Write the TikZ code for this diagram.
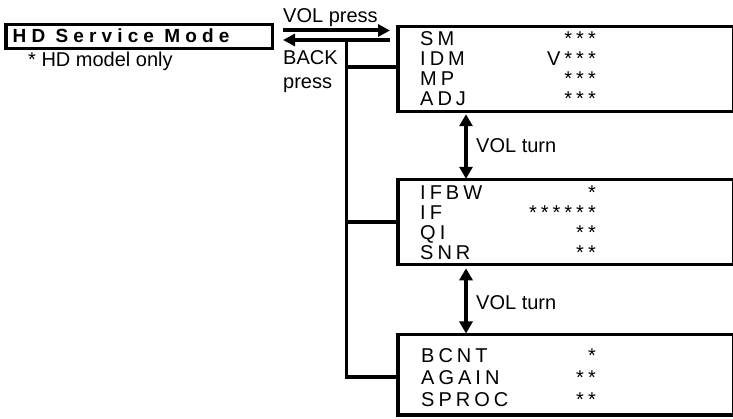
\documentclass[tikz,border=0pt]{standalone}
\usepackage{fontspec}
\setmainfont{Liberation Sans}
\newfontfamily\trkfont[LetterSpace=20]{Liberation Sans}
\newfontfamily\trkbold[LetterSpace=27]{Liberation Sans Bold}
\usetikzlibrary{arrows.meta}
\tikzset{
  box/.style={draw=black, line width=3.5pt, rectangle, inner sep=0pt, outer sep=0pt, anchor=north west},
  lbl/.style={inner sep=0pt, anchor=base west, font=\fontsize{20}{24}\selectfont},
  lt/.style={inner sep=0pt, anchor=base west, font=\fontsize{20}{24}\selectfont\trkfont},
  rt/.style={inner sep=0pt, anchor=base east, font=\fontsize{20}{24}\selectfont\trkfont},
  conn/.style={line width=3.5pt, draw=black},
  arr/.style={line width=4pt, draw=black, -{Triangle[length=12pt,width=12pt]}},
  darr/.style={line width=4pt, draw=black, {Triangle[length=12pt,width=13pt]}-{Triangle[length=12pt,width=13pt]}}
}
\begin{document}
\begin{tikzpicture}[x=1pt,y=-1pt]
\useasboundingbox (0,0) rectangle (733,419);
\clip (0,0) rectangle (733,419);
% main mode box
\node[box, minimum width=266.5pt, minimum height=24pt] (hd) at (6,24.7) {};
\node[lt, font=\fontsize{19}{22}\selectfont\trkbold] (hdt) at (12.5,43) {HD Service Mode};
\node[lbl] (note) at (28,67) {* HD model only};
% menu boxes
\node[box, minimum width=336pt, minimum height=85pt] (m1) at (398,26.5) {};
\node[box, minimum width=336pt, minimum height=85pt] (m2) at (398,179.3) {};
\node[box, minimum width=336pt, minimum height=80.5pt] (m3) at (398,334.5) {};
% box 1 text
\node[lt] (t11) at (420,46) {SM};
\node[lt] (t12) at (420,66) {IDM};
\node[lt] (t13) at (420,86) {MP};
\node[lt] (t14) at (420,105.5) {ADJ};
\node[rt] (v11) at (596,46) {***};
\node[rt] (v12) at (596,66) {V***};
\node[rt] (v13) at (596,86) {***};
\node[rt] (v14) at (596,105.5) {***};
% box 2 text
\node[lt] (t21) at (420,200) {IFBW};
\node[lt] (t22) at (420,220) {IF};
\node[lt] (t23) at (420,240) {QI};
\node[lt] (t24) at (420,260) {SNR};
\node[rt] (v21) at (596,200) {*};
\node[rt] (v22) at (596,220) {******};
\node[rt] (v23) at (596,240) {**};
\node[rt] (v24) at (596,260) {**};
% box 3 text
\node[lt] (t31) at (421,362) {BCNT};
\node[lt] (t32) at (421,384) {AGAIN};
\node[lt] (t33) at (421,406) {SPROC};
\node[rt] (v31) at (596,362) {*};
\node[rt] (v32) at (596,384) {**};
\node[rt] (v33) at (596,406) {**};
% arrows between mode box and menu
\coordinate (va) at ([shift={(10.5pt,6.2pt)}]hd.east);
\coordinate (vb) at ([shift={(10.5pt,-3.3pt)}]hd.east);
\draw[arr, shorten >=8pt] (va) -- (va -| m1.west);
\draw[arr, shorten <=8pt] (vb -| m1.west) -- (vb);
\node[lbl] (lvol) at (283,23) {VOL press};
\node[lbl] (lback) at (283,65) {BACK};
\node[lbl] (lpress) at (283,89) {press};
% trunk and branches
\coordinate (tk) at ([xshift=63.7pt]vb);
\draw[conn] (tk) |- ([yshift=-2.3pt]m3.west);
\draw[conn] (tk |- m2.west) -- (m2.west);
\draw[conn] ([yshift=2pt]tk |- m1.west) -- ([yshift=2pt]m1.west);
% VOL turn double arrows
\draw[darr, shorten <=2.75pt, shorten >=0.5pt] ([xshift=-100pt]m1.south) -- ([xshift=-100pt]m2.north);
\draw[darr, shorten <=4pt, shorten >=1pt] ([xshift=-100pt]m2.south) -- ([xshift=-100pt]m3.north);
\node[lbl] (turn1) at (476,153) {VOL turn};
\node[lbl] (turn2) at (476,309) {VOL turn};
\end{tikzpicture}
\end{document}
